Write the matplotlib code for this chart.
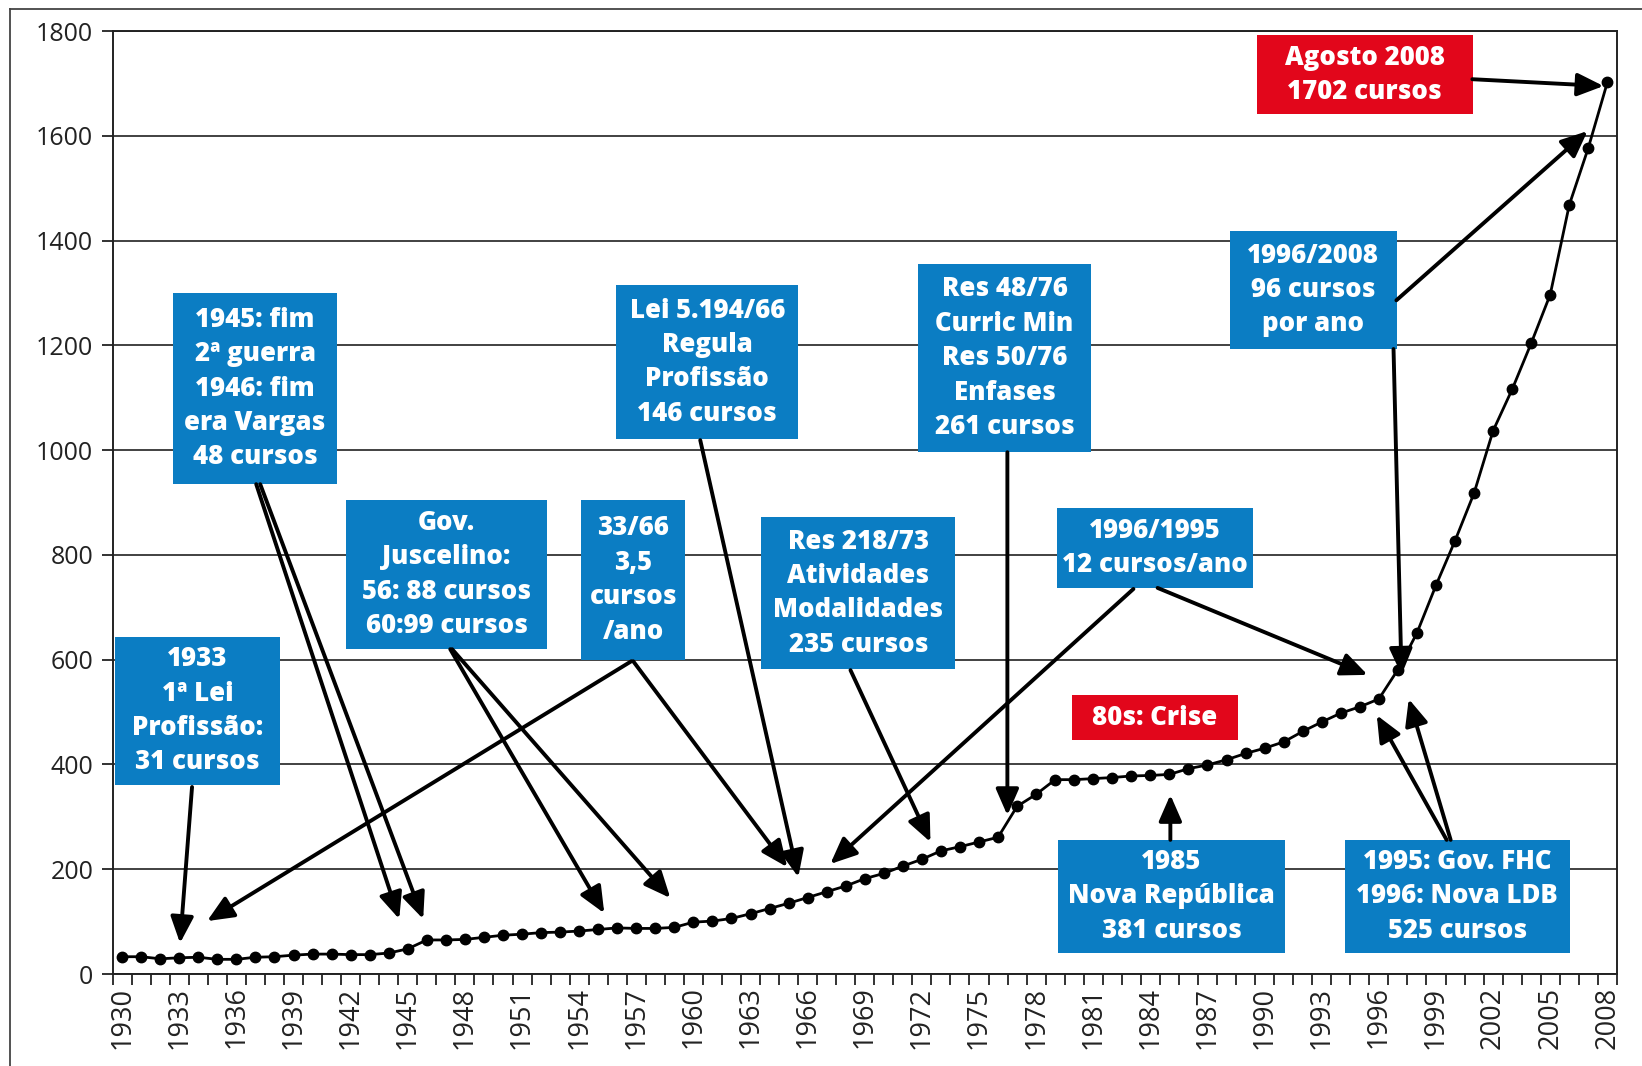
import matplotlib
matplotlib.use("Agg")
import matplotlib.pyplot as plt
from matplotlib.lines import Line2D
from matplotlib.patches import Rectangle

plt.rcParams['font.family'] = ['Open Sans', 'DejaVu Sans']

# numero de cursos de engenharia por ano
anos = list(range(1930, 2009))
cursos = [33, 33, 29, 31, 32, 28, 28, 32, 33, 36,
          38, 38, 37, 37, 40, 48, 65, 65, 66, 70,
          74, 76, 79, 80, 82, 85, 88, 87, 87, 89,
          99, 101, 106, 115, 125, 135, 146, 157, 168, 182,
          192, 206, 219, 235, 243, 252, 261, 320, 343, 371,
          371, 373, 375, 378, 379, 381, 392, 399, 409, 421,
          431, 443, 463, 481, 498, 510, 525, 581, 651, 742,
          827, 918, 1037, 1116, 1204, 1297, 1468, 1577, 1702]

anos_rotulo = list(range(1930, 2009, 3))
y_ticks = list(range(0, 1801, 200))

AZUL = '#0b7dc3'
VERMELHO = '#e2061b'

# (texto, caixa (x0, x1, y0, y1), cor, setas [(origem, destino)])
notas = [
    ("1933\n1ª Lei\nProfissão:\n31 cursos", (1929.62, 1938.29, 361, 644), AZUL,
     [((1933.67, 357), (1933.04, 59))]),
    ("1945: fim\n2ª guerra\n1946: fim\nera Vargas\n48 cursos", (1932.67, 1941.29, 935, 1300), AZUL,
     [((1937.04, 935), (1944.55, 105)), ((1937.25, 935), (1945.81, 105))]),
    ("Gov.\nJuscelino:\n56: 88 cursos\n60:99 cursos", (1941.76, 1952.32, 620, 905), AZUL,
     [((1947.23, 620), (1955.32, 116)), ((1947.33, 620), (1958.79, 145))]),
    ("33/66\n3,5\ncursos\n/ano", (1954.11, 1959.58, 599, 905), AZUL,
     [((1956.74, 597), (1934.46, 101)), ((1956.84, 597), (1964.93, 204))]),
    ("Lei 5.194/66\nRegula\nProfissão\n146 cursos", (1955.95, 1965.51, 1021, 1315), AZUL,
     [((1960.36, 1019), (1965.51, 185))]),
    ("Res 48/76\nCurric Min\nRes 50/76\nEnfases\n261 cursos", (1971.82, 1980.86, 996, 1355), AZUL,
     [((1976.49, 996), (1976.49, 303))]),
    ("Res 218/73\nAtividades\nModalidades\n235 cursos", (1963.57, 1973.76, 582, 872), AZUL,
     [((1968.25, 580), (1972.45, 252))]),
    ("1996/1995\n12 cursos/ano", (1979.12, 1989.37, 737, 889), AZUL,
     [((1983.11, 735), (1967.19, 210)), ((1984.38, 737), (1995.41, 571))]),
    ("80s: Crise", (1979.86, 1988.58, 447, 532), VERMELHO, []),
    ("1985\nNova República\n381 cursos", (1979.17, 1991.05, 40, 256), AZUL,
     [((1985.05, 256), (1985.05, 342))]),
    ("1995: Gov. FHC\n1996: Nova LDB\n525 cursos", (1994.20, 2006.03, 40, 256), AZUL,
     [((1999.56, 256), (1995.89, 494)), ((1999.77, 256), (1997.57, 525))]),
    ("1996/2008\n96 cursos\npor ano", (1988.16, 1996.94, 1193, 1418), AZUL,
     [((1996.92, 1286), (2006.96, 1609)), ((1996.77, 1193), (1997.19, 571))]),
    ("Agosto 2008\n1702 cursos", (1989.58, 2000.93, 1641, 1792), VERMELHO,
     [((2000.91, 1708), (2007.80, 1695))]),
]

fig = plt.figure(figsize=(16.42, 10.66), dpi=100)
ax = fig.add_axes([0.0686, 0.0863, 0.9161, 0.8846])

ax.plot(anos, cursos, color='black', lw=2, marker='o', ms=7.5, zorder=3)

ax.set_xlim(1929.5, 2008.5)
ax.set_ylim(0, 1800)

ax.set_yticks(y_ticks)
ax.set_yticklabels([str(v) for v in y_ticks])
ax.set_xticks(anos_rotulo)
ax.set_xticklabels([str(a) for a in anos_rotulo], rotation=90)
ax.set_xticks([a - 0.5 for a in anos] + [2008.5], minor=True)

ax.tick_params(axis='x', which='major', length=0, pad=9, labelsize=19.5, labelcolor='#222')
ax.tick_params(axis='x', which='minor', length=8, width=1.3, color='#222')
ax.tick_params(axis='y', length=8, width=1.3, pad=6, labelsize=18, labelcolor='#222', color='#222')

ax.yaxis.grid(True, color='#333', lw=1.3)
ax.set_axisbelow(True)
for s in ax.spines.values():
    s.set_color('#222')
    s.set_linewidth(1.4)

for texto, (x0, x1, y0, y1), cor, setas in notas:
    ax.add_patch(Rectangle((x0, y0), x1 - x0, y1 - y0, facecolor=cor,
                           edgecolor='none', zorder=4))
    ax.text((x0 + x1) / 2, (y0 + y1) / 2, texto, ha='center', va='center',
            color='white', fontsize=18.5, fontweight=800, linespacing=1.42,
            zorder=5)
    for origem, destino in setas:
        ax.annotate('', xy=destino, xytext=origem, zorder=6,
                    arrowprops=dict(arrowstyle='-|>,head_length=0.8,head_width=0.35',
                                    color='black', lw=2.8, mutation_scale=20,
                                    shrinkA=0, shrinkB=0))

# moldura externa
fig.add_artist(Line2D([10 / 1642, 10 / 1642], [0, 1 - 9 / 1066], color='#444', lw=1.3))
fig.add_artist(Line2D([10 / 1642, 1], [1 - 9 / 1066, 1 - 9 / 1066], color='#444', lw=1.3))

fig.savefig('out.png', dpi=100, facecolor='white')
